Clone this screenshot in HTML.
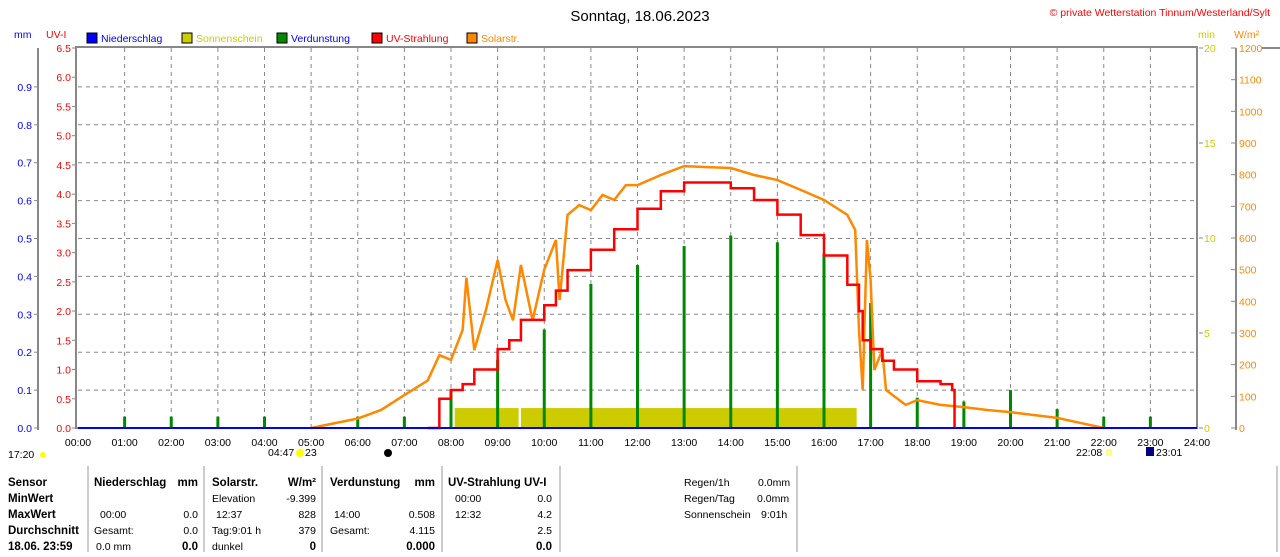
<!DOCTYPE html>
<html><head><meta charset="utf-8"><style>
body{margin:0;background:#fff;font-family:"Liberation Sans",sans-serif;}
svg text{font-family:"Liberation Sans",sans-serif;font-size:10.5px;}
</style></head><body>
<svg id="c" width="1280" height="552" xmlns="http://www.w3.org/2000/svg">
<text x="640" y="21" text-anchor="middle" style="font-size:15px" fill="#000">Sonntag, 18.06.2023</text>
<text x="1270" y="16" text-anchor="end" fill="#f00">© private Wetterstation Tinnum/Westerland/Sylt</text>
<text x="14" y="38" fill="#00f">mm</text>
<text x="46" y="38" fill="#f00">UV-I</text>
<text x="1198" y="38" fill="#cc0">min</text>
<text x="1234" y="38" fill="#f80">W/m²</text>
<g>
<rect x="87" y="33" width="10" height="10" fill="#00f" stroke="#000"/><text x="101" y="42" fill="#00f">Niederschlag</text>
<rect x="182" y="33" width="10" height="10" fill="#cc0" stroke="#000"/><text x="196" y="42" fill="#cc0">Sonnenschein</text>
<rect x="277" y="33" width="10" height="10" fill="#080" stroke="#000"/><text x="291" y="42" fill="#00f">Verdunstung</text>
<rect x="372" y="33" width="10" height="10" fill="#f00" stroke="#000"/><text x="386" y="42" fill="#f00">UV-Strahlung</text>
<rect x="467" y="33" width="10" height="10" fill="#f80" stroke="#000"/><text x="481" y="42" fill="#f80">Solarstr.</text>
</g>
<g id="grid"></g><g id="axes"></g><g id="marks"></g>
<g>
<g stroke="#999"><line x1="88" y1="466" x2="88" y2="552"/><line x1="204" y1="466" x2="204" y2="552"/><line x1="322" y1="466" x2="322" y2="552"/><line x1="442" y1="466" x2="442" y2="552"/><line x1="560" y1="466" x2="560" y2="552"/><line x1="797" y1="466" x2="797" y2="552"/><line x1="1277" y1="466" x2="1277" y2="552"/></g>
<g font-weight="bold" style="font-size:11.5px"><text x="8" y="486" style="font-size:11.5px">Sensor</text><text x="8" y="502" style="font-size:11.5px">MinWert</text><text x="8" y="518" style="font-size:11.5px">MaxWert</text><text x="8" y="534" style="font-size:11.5px">Durchschnitt</text><text x="8" y="550" style="font-size:11.5px">18.06. 23:59</text>
<text x="94" y="486" style="font-size:11.5px">Niederschlag</text><text x="198" y="486" text-anchor="end" style="font-size:11.5px">mm</text>
<text x="212" y="486" style="font-size:11.5px">Solarstr.</text><text x="316" y="486" text-anchor="end" style="font-size:11.5px">W/m²</text>
<text x="330" y="486" style="font-size:11.5px">Verdunstung</text><text x="435" y="486" text-anchor="end" style="font-size:11.5px">mm</text>
<text x="448" y="486" style="font-size:11.5px">UV-Strahlung UV-I</text>
<text x="198" y="550" text-anchor="end" style="font-size:11.5px">0.0</text><text x="316" y="550" text-anchor="end" style="font-size:11.5px">0</text><text x="435" y="550" text-anchor="end" style="font-size:11.5px">0.000</text><text x="552" y="550" text-anchor="end" style="font-size:11.5px">0.0</text></g>
<text x="100" y="518">00:00</text><text x="198" y="518" text-anchor="end">0.0</text>
<text x="94" y="534">Gesamt:</text><text x="198" y="534" text-anchor="end">0.0</text>
<text x="96" y="550">0.0 mm</text>
<text x="212" y="502">Elevation</text><text x="316" y="502" text-anchor="end">-9.399</text>
<text x="216" y="518">12:37</text><text x="316" y="518" text-anchor="end">828</text>
<text x="212" y="534">Tag:9:01 h</text><text x="316" y="534" text-anchor="end">379</text>
<text x="212" y="550">dunkel</text>
<text x="334" y="518">14:00</text><text x="435" y="518" text-anchor="end">0.508</text>
<text x="330" y="534">Gesamt:</text><text x="435" y="534" text-anchor="end">4.115</text>
<text x="455" y="502">00:00</text><text x="552" y="502" text-anchor="end">0.0</text>
<text x="455" y="518">12:32</text><text x="552" y="518" text-anchor="end">4.2</text>
<text x="552" y="534" text-anchor="end">2.5</text>
<text x="684" y="486">Regen/1h</text><text x="758" y="486">0.0mm</text>
<text x="684" y="502">Regen/Tag</text><text x="757" y="502">0.0mm</text>
<text x="684" y="518">Sonnenschein</text><text x="761" y="518">9:01h</text>
</g>
<g>
<text x="8" y="458">17:20</text><circle cx="43" cy="455" r="3" fill="#ff0"/>
<text x="268" y="456">04:47</text><circle cx="300" cy="453" r="4" fill="#ff0"/><text x="305" y="456">23</text>
<circle cx="388" cy="453" r="4" fill="#000"/>
<text x="1076" y="456">22:08</text><rect x="1107" y="450" width="4" height="5" fill="none" stroke="#ff0"/>
<rect x="1146" y="447" width="8" height="9" fill="#008"/><text x="1156" y="456">23:01</text>
</g>
</svg>
<script>
const hours=[0,1,2,3,4,5,6,7,8,9,10,11,12,13,14,15,16,17,18,19,20,21,22,23,24];
const uvTicks=[0,0.5,1,1.5,2,2.5,3,3.5,4,4.5,5,5.5,6,6.5];
const mmTicks=[0,0.1,0.2,0.3,0.4,0.5,0.6,0.7,0.8,0.9];
const wTicks=[0,100,200,300,400,500,600,700,800,900,1000,1100,1200];
const minTicks=[0,5,10,15,20];
const evapHours=[1,2,3,4,6,7,8,9,10,11,12,13,14,15,16,17,18,19,20,21,22,23];
const evapVals=[0.03,0.03,0.03,0.03,0.03,0.03,0.1,0.18,0.26,0.38,0.43,0.48,0.508,0.49,0.46,0.33,0.08,0.07,0.1,0.05,0.03,0.03];
const solT=[5,6,6.5,7,7.5,7.75,8,8.25,8.33,8.5,8.75,9,9.17,9.33,9.5,9.75,10,10.25,10.33,10.5,10.75,11,11.25,11.5,11.75,12,12.5,13,13.5,14,14.5,15,15.5,16,16.5,16.67,16.75,16.83,16.92,17,17.08,17.25,17.33,17.75,18,18.5,19,19.5,20,21,21.5,22];
const solV=[0,30,57,104,150,230,215,310,475,246,373,530,404,340,515,340,500,594,404,673,704,688,736,720,767,767,799,827,824,821,799,783,752,720,673,625,310,120,594,467,183,246,120,73,88,73,66,57,50,32,16,0];
const uvT=[7.5,7.75,8,8.25,8.5,9,9.25,9.5,10,10.25,10.5,11,11.5,12,12.5,13,13.75,14,14.5,15,15.5,16,16.5,16.75,16.83,17,17.25,17.5,18,18.5,18.75,18.8];
const uvV=[0,0.5,0.65,0.75,1.0,1.35,1.5,1.85,2.1,2.35,2.7,3.05,3.4,3.75,4.05,4.2,4.2,4.1,3.9,3.65,3.3,2.95,2.45,2.0,1.5,1.35,1.15,1.0,0.8,0.75,0.65,0];
const sunStart=[8.08,9.5];const sunEnd=[9.45,16.7];const sunMin=[1.05,1.05];
const X0=78,X1=1197,Y0=428,Y1=48;
const x=h=>X0+(X1-X0)*h/24;
const yUV=v=>Y0-(Y0-Y1)*v/6.5;
const yMM=v=>Y0-v*379;
const yW=v=>Y0-(Y0-Y1)*v/1200;
const yMin=v=>Y0-(Y0-Y1)*v/20;
const NS="http://www.w3.org/2000/svg";
function mk(p,t,a){const e=document.createElementNS(NS,t);for(const k in a)e.setAttribute(k,a[k]);p.appendChild(e);return e;}
const G=document.getElementById('grid'),A=document.getElementById('axes'),M=document.getElementById('marks');
hours.forEach(h=>{if(h>0&&h<24){const l=mk(G,'line',{x1:x(h),x2:x(h),y1:Y1,y2:Y0,stroke:'#888','stroke-dasharray':'4,4'});

}
const t=mk(A,'text',{x:x(h),y:446,'text-anchor':'middle'});t.textContent=(h<10?'0':'')+h+':00';

});
mmTicks.forEach(v=>{if(v>0){const l=mk(G,'line',{x1:X0,x2:X1,y1:yMM(v),y2:yMM(v),stroke:'#888','stroke-dasharray':'4,4'});

}
mk(A,'line',{x1:34,x2:38,y1:yMM(v),y2:yMM(v),stroke:'#888'});
const t=mk(A,'text',{x:32,y:yMM(v)+4,'text-anchor':'end',fill:'#00f'});t.textContent=v.toFixed(1);

});
uvTicks.forEach(v=>{mk(A,'line',{x1:72,x2:76,y1:yUV(v),y2:yUV(v),stroke:'#888'});
const t=mk(A,'text',{x:71,y:yUV(v)+4,'text-anchor':'end',fill:'#f00'});t.textContent=v.toFixed(1);

});
minTicks.forEach(v=>{mk(A,'line',{x1:1199,x2:1203,y1:yMin(v),y2:yMin(v),stroke:'#888'});
const t=mk(A,'text',{x:1204,y:yMin(v)+4,fill:'#cc0'});t.textContent=v;

});
wTicks.forEach(v=>{mk(A,'line',{x1:1231,x2:1236,y1:yW(v),y2:yW(v),stroke:'#888'});
const t=mk(A,'text',{x:1239,y:yW(v)+4,fill:'#f80'});t.textContent=v;

});
mk(A,'line',{x1:38,x2:38,y1:48,y2:430,stroke:'#888','stroke-width':2});
mk(A,'line',{x1:1236,x2:1236,y1:48,y2:430,stroke:'#888','stroke-width':2});
mk(A,'rect',{x:X0-2,y:Y1-1,width:X1-X0+2,height:Y0-Y1+1,fill:'none',stroke:'#888','stroke-width':2});
mk(A,'line',{x1:1262,x2:1280,y1:48,y2:48,stroke:'#888','stroke-width':2});
sunStart.forEach((s,i)=>{const r=mk(M,'rect',{x:x(s),y:yMin(sunMin[i]),width:x(sunEnd[i])-x(s),height:Y0-yMin(sunMin[i]),fill:'#cc0'});

});
evapHours.forEach((h,i)=>{const r=mk(M,'rect',{x:x(h)-1.5,y:yMM(evapVals[i]),width:3,height:Y0-yMM(evapVals[i]),fill:'#080'});

});
const sp=mk(M,'polyline',{points:solT.map((t,i)=>x(t)+','+yW(solV[i])).join(' '),fill:'none',stroke:'#f80','stroke-width':2.5});


let pts=[];uvT.forEach((t,i)=>{if(i>0)pts.push(x(t)+','+yUV(uvV[i-1]));pts.push(x(t)+','+yUV(uvV[i]));});
const up=mk(M,'polyline',{points:pts.join(' '),fill:'none',stroke:'#f00','stroke-width':2.5});


const bl=mk(M,'line',{x1:X0,x2:X1,y1:Y0,y2:Y0,stroke:'#00f','stroke-width':2});


</script>
</body></html>
